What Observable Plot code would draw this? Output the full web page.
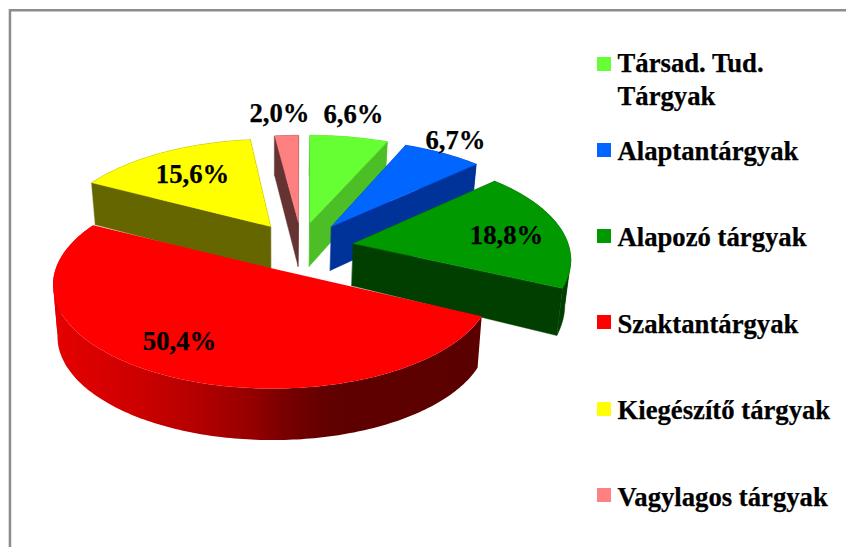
<!DOCTYPE html>
<html>
<head>
<meta charset="utf-8">
<style>html,body{margin:0;padding:0;background:#fff}svg{display:block}</style>
<script src="https://cdn.jsdelivr.net/npm/d3@7"></script>
<script src="https://cdn.jsdelivr.net/npm/@observablehq/plot@0.6"></script>
</head>
<body>
<div id="chart"></div>
<script>
// --- data ---
const subjects = ["Társad. Tud.\nTárgyak", "Alaptantárgyak", "Alapozó tárgyak", "Szaktantárgyak", "Kiegészítő tárgyak", "Vagylagos tárgyak"];
const shares = [6.6, 6.7, 18.8, 50.4, 15.6, 2.0];
const topColors = ["#66FF33", "#0066FF", "#009900", "#FF0000", "#FFFF00", "#FF8080"];
const wallColors = ["#4DBF26", "#003399", "#003F00", "#5E0000", "#666600", "#663333"];

// --- layout of the exploded pie: apex of each slice, view of the tilted disc ---
const apexX = [309.5, 331, 353, 272, 270, 298];
const apexY = [222, 226, 243, 268, 226, 222];
const sliceSpin = [0, -1, -1, 0.7, 1, 0];      // degrees
const sliceWidth = [1, 1, 0.975, 0.985, 0.985, 1];
const sliceDepth = [1, 1, 0.93, 1, 1, 1];
const discA = 220, discB = 101, persp = 0.159;
const rad = d3.scaleLinear().domain([0, d3.sum(shares)]).range([0, 2 * Math.PI]);
const backOrder = [5, 4, 0, 1, 2];
const bigSlice = 3;

function topPoint(i, theta) {
  const t = theta + sliceSpin[i] * Math.PI / 180;
  const u = Math.sin(t), v = -Math.cos(t), w = 1 - persp * v;
  return [apexX[i] + sliceWidth[i] * discA * u / w, apexY[i] + discB * v / w];
}
function dropPoint(p, i) {
  const y = p[1];
  const d = y < 230 ? 40 + 0.043 * (y - 135) : Math.min(51.5, 44 + 0.12 * (y - 230));
  return [p[0] + (275 - p[0]) * 0.02, y + d * sliceDepth[i]];
}

const cum = [0];
for (const s of shares) cum.push(cum[cum.length - 1] + s);

function rimOf(i) {
  const t0 = rad(cum[i]), t1 = rad(cum[i + 1]);
  const n = Math.max(12, Math.round((t1 - t0) * 60));
  return d3.range(n + 1).map(k => topPoint(i, t0 + (t1 - t0) * k / n));
}

let polyId = 0;
function addPoly(target, points, color) {
  const id = polyId++;
  for (const p of points) target.push({id, px: p[0], py: p[1], color});
}
// outer wall, split where the rim turns back so that each part fills cleanly
function addBand(target, rim, i, color) {
  const xs = rim.map(p => p[0]);
  const cuts = [...new Set([0, d3.minIndex(xs), d3.maxIndex(xs), rim.length - 1])].sort((a, b) => a - b);
  for (let c = 0; c < cuts.length - 1; c++) {
    const part = rim.slice(cuts[c], cuts[c + 1] + 1);
    addPoly(target, [...part, ...part.map(p => dropPoint(p, i)).reverse()], color);
  }
}

const polys = [];
for (const i of backOrder) {
  const apex = [apexX[i], apexY[i]];
  const rim = rimOf(i);
  const last = rim[rim.length - 1];
  addPoly(polys, [apex, rim[0], dropPoint(rim[0], i), dropPoint(apex, i)], wallColors[i]);
  addPoly(polys, [apex, last, dropPoint(last, i), dropPoint(apex, i)], wallColors[i]);
  addBand(polys, rim, i, wallColors[i]);
  addPoly(polys, [apex, ...rim], topColors[i]);
}

// big slice: outer wall with a horizontal shading, then its top face
const bigRim = rimOf(bigSlice);
const bigWall = [];
addBand(bigWall, bigRim, bigSlice, "url(#bigWallShade)");
const bigTop = [];
addPoly(bigTop, [[apexX[bigSlice], apexY[bigSlice]], ...bigRim], topColors[bigSlice]);

const shadeStops = [[50, "#E60000"], [140, "#CC0000"], [207, "#AE0000"], [250, "#960000"], [285, "#780000"], [330, "#600000"], [490, "#5A0000"]];
function shadeDefs() {
  const defs = d3.create("svg:defs");
  const g = defs.append("linearGradient").attr("id", "bigWallShade")
    .attr("gradientUnits", "userSpaceOnUse")
    .attr("x1", shadeStops[0][0]).attr("x2", shadeStops[shadeStops.length - 1][0])
    .attr("y1", 0).attr("y2", 0);
  const span = shadeStops[shadeStops.length - 1][0] - shadeStops[0][0];
  for (const [x, c] of shadeStops) g.append("stop").attr("offset", (x - shadeStops[0][0]) / span).attr("stop-color", c);
  return defs.node();
}

const pct = shares.map(v => v.toFixed(1).replace(".", ",") + "%");
const labelX = [353, 455, 506, 179, 192, 279];
const labelY = [122, 148, 243, 349, 182, 121];
const swatchY = [57, 143, 229, 315, 402, 488];
const legendY = [104, 159, 245, 332, 418, 505];
const idx = d3.range(shares.length);
const textStyle = {fontFamily: "Liberation Serif", fontWeight: "bold", fontSize: 26.7, fill: "black", stroke: "black", strokeWidth: 0.25};

const chart = Plot.plot({
  width: 846, height: 547,
  marginTop: 0, marginRight: 0, marginBottom: 0, marginLeft: 0,
  x: {domain: [0, 846], range: [0, 846], axis: null},
  y: {domain: [0, 547], range: [0, 547], axis: null},
  color: {type: "identity"},
  marks: [
    shadeDefs,
    Plot.rect([0], {x1: 9, x2: 846, y1: 9, y2: 11.5, fill: "#8C8C8C"}),
    Plot.rect([0], {x1: 8.7, x2: 11.2, y1: 9, y2: 547, fill: "#8C8C8C"}),
    Plot.line(polys, {x: "px", y: "py", z: "id", fill: "color", stroke: "color", strokeWidth: 0.4, curve: "linear-closed"}),
    Plot.line(bigWall, {x: "px", y: "py", z: "id", fill: "url(#bigWallShade)", curve: "linear-closed"}),
    Plot.line(bigTop, {x: "px", y: "py", fill: topColors[bigSlice], curve: "linear-closed"}),
    Plot.text(idx, {x: i => labelX[i], y: i => labelY[i], text: i => pct[i], textAnchor: "middle", lineAnchor: "bottom", ...textStyle}),
    Plot.rect(idx, {x1: 597, x2: 611, y1: i => swatchY[i], y2: i => swatchY[i] + 14, fill: i => topColors[i]}),
    Plot.text(idx, {x: 617, y: i => legendY[i], text: i => subjects[i], textAnchor: "start", lineAnchor: "bottom", lineHeight: 1.2, ...textStyle})
  ]
});
document.getElementById("chart").append(chart);
</script>
</body>
</html>
